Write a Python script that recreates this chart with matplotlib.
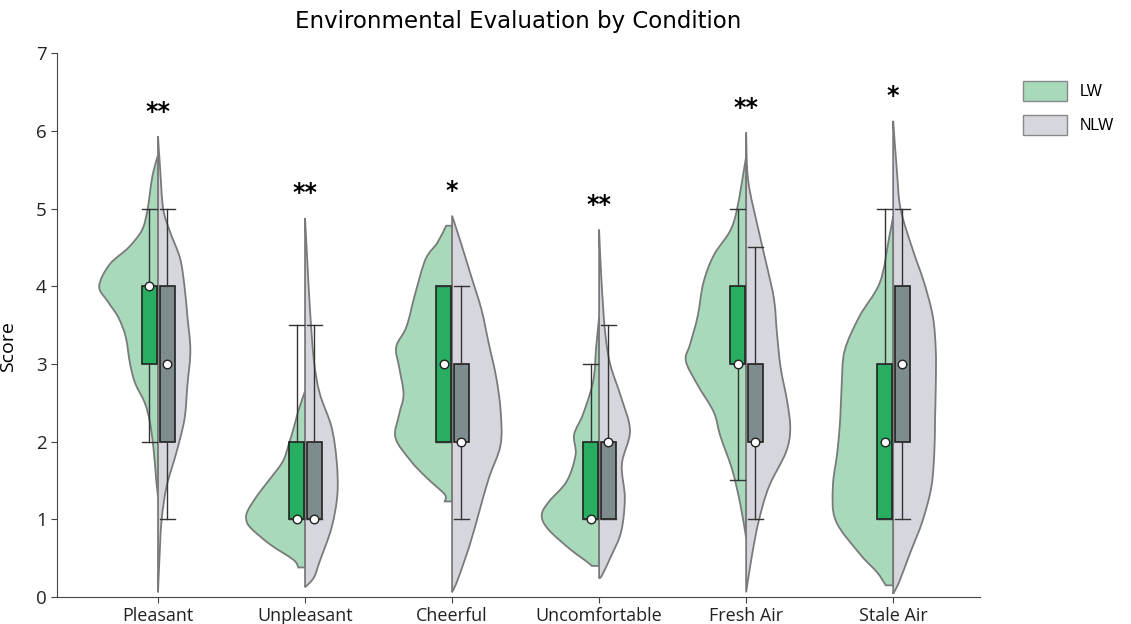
import numpy as np
import matplotlib
matplotlib.use("Agg")
import matplotlib.pyplot as plt
from matplotlib.path import Path
from matplotlib.patches import PathPatch, Patch


# categories and significance marks
conditions = ["Pleasant", "Unpleasant", "Cheerful", "Uncomfortable", "Fresh Air", "Stale Air"]
stars = ["**", "**", "*", "**", "**", "*"]
groups = ["LW", "NLW"]

# box statistics (LW / NLW)
lw_q1 = [3, 1, 2, 1, 3, 1]
lw_med = [4, 1, 3, 1, 3, 2]
lw_q3 = [4, 2, 4, 2, 4, 3]
lw_lo = [2, 1, 2, 1, 1.5, 1]
lw_hi = [5, 3.5, 4, 3, 5, 5]

nlw_q1 = [2, 1, 2, 1, 2, 2]
nlw_med = [3, 1, 2, 2, 2, 3]
nlw_q3 = [4, 2, 3, 2, 3, 4]
nlw_lo = [1, 1, 1, 1, 1, 1]
nlw_hi = [5, 3.5, 4, 3.5, 4.5, 5]

# violin half profiles: (score, half width), top to bottom
pleasant_lw = [(5.69, 0), (5.45, 0.035), (5.2, 0.055), (4.95, 0.075), (4.72, 0.11), (4.5, 0.20),
               (4.28, 0.33), (4.0, 0.40), (3.8, 0.34), (3.6, 0.27), (3.35, 0.22), (3.0, 0.19),
               (2.75, 0.155), (2.5, 0.09), (2.25, 0.055), (1.9, 0.03), (1.5, 0.012), (1.29, 0)]
pleasant_nlw = [(5.93, 0), (5.5, 0.015), (5.0, 0.035), (4.71, 0.08), (4.36, 0.15), (4.0, 0.18),
                (3.61, 0.20), (3.17, 0.22), (2.73, 0.20), (2.29, 0.18), (1.86, 0.125), (1.42, 0.058),
                (0.98, 0.024), (0.5, 0.01), (0.06, 0)]
unpleasant_lw = [(2.65, 0), (2.40, 0.045), (2.19, 0.075), (1.97, 0.11), (1.75, 0.15), (1.54, 0.23),
                 (1.32, 0.32), (1.11, 0.39), (1.0, 0.40), (0.89, 0.37), (0.68, 0.24), (0.48, 0.08),
                 (0.38, 0.045)]
unpleasant_nlw = [(4.88, 0), (4.34, 0.015), (3.69, 0.034), (3.05, 0.06), (2.62, 0.10), (2.19, 0.18),
                  (1.75, 0.215), (1.32, 0.22), (0.89, 0.18), (0.46, 0.10), (0.25, 0.06), (0.125, 0)]
cheerful_lw = [(4.78, 0.04), (4.56, 0.10), (4.35, 0.18), (3.91, 0.25), (3.48, 0.31), (3.22, 0.38),
               (2.96, 0.36), (2.61, 0.33), (2.35, 0.36), (2.05, 0.385), (1.75, 0.28), (1.53, 0.17),
               (1.32, 0.05), (1.23, 0.05)]
cheerful_nlw = [(4.91, 0), (4.56, 0.06), (4.13, 0.13), (3.70, 0.20), (3.26, 0.25), (2.83, 0.30),
                (2.40, 0.33), (1.96, 0.33), (1.53, 0.25), (1.10, 0.185), (0.67, 0.12), (0.23, 0.04),
                (0.06, 0)]
uncomfortable_lw = [(3.60, 0), (3.22, 0.02), (2.78, 0.04), (2.35, 0.11), (2.09, 0.17), (1.83, 0.16),
                    (1.49, 0.22), (1.23, 0.34), (1.06, 0.39), (0.88, 0.35), (0.62, 0.20), (0.45, 0.08),
                    (0.40, 0.05)]
uncomfortable_nlw = [(4.73, 0), (4.08, 0.016), (3.43, 0.04), (3.0, 0.075), (2.57, 0.15), (2.14, 0.21),
                     (1.71, 0.155), (1.27, 0.175), (0.84, 0.15), (0.54, 0.085), (0.28, 0.02), (0.24, 0)]
fresh_lw = [(5.67, 0), (5.01, 0.06), (4.71, 0.11), (4.40, 0.22), (4.05, 0.29), (3.61, 0.33),
            (3.26, 0.38), (3.04, 0.41), (2.73, 0.33), (2.38, 0.22), (2.07, 0.175), (1.64, 0.095),
            (1.2, 0.04), (0.76, 0)]
fresh_nlw = [(5.98, 0), (5.36, 0.014), (4.71, 0.086), (4.27, 0.14), (3.83, 0.19), (3.39, 0.21),
             (2.95, 0.235), (2.51, 0.28), (2.16, 0.30), (1.86, 0.27), (1.42, 0.155), (0.98, 0.086),
             (0.54, 0.04), (0.06, 0)]
stale_lw = [(4.9, 0), (4.6, 0.03), (4.05, 0.09), (3.61, 0.23), (3.17, 0.33), (2.73, 0.35),
            (2.29, 0.36), (1.86, 0.38), (1.42, 0.41), (0.98, 0.39), (0.54, 0.22), (0.32, 0.11),
            (0.15, 0.05)]
stale_nlw = [(6.13, 0), (5.5, 0.025), (5.0, 0.05), (4.49, 0.13), (4.05, 0.21), (3.61, 0.27),
             (3.17, 0.29), (2.73, 0.29), (2.29, 0.285), (1.86, 0.28), (1.42, 0.26), (0.98, 0.20),
             (0.54, 0.11), (0.19, 0.04), (0.04, 0)]

lw_shapes = [pleasant_lw, unpleasant_lw, cheerful_lw, uncomfortable_lw, fresh_lw, stale_lw]
nlw_shapes = [pleasant_nlw, unpleasant_nlw, cheerful_nlw, uncomfortable_nlw, fresh_nlw, stale_nlw]

LW_FILL = "#a9d9bb"
NLW_FILL = "#d6d7de"
LW_BOX = "#27ae60"
NLW_BOX = "#7f8c8d"
VIOLIN_EDGE = "#7a7a7a"


def half_violin(ax, center, shape, side, **kwargs):
    # side = -1 left half, +1 right half; smooth outline through the profile points
    pts = np.array([(center + side * w, y) for y, w in shape])
    ext = np.vstack([pts[0], pts, pts[-1]])
    verts = [(center, pts[0, 1]), tuple(pts[0])]
    codes = [Path.MOVETO, Path.LINETO]
    for i in range(len(pts) - 1):
        p0, p1, p2, p3 = ext[i], ext[i + 1], ext[i + 2], ext[i + 3]
        c1 = p1 + (p2 - p0) / 6
        c2 = p2 - (p3 - p1) / 6
        verts += [tuple(c1), tuple(c2), tuple(p2)]
        codes += [Path.CURVE4] * 3
    verts += [(center, pts[-1, 1]), (center, pts[0, 1])]
    codes += [Path.LINETO, Path.CLOSEPOLY]
    patch = PathPatch(Path(verts, codes), **kwargs)
    ax.add_patch(patch)
    return patch


def box_stats(q1, med, q3, lo, hi):
    return [dict(med=m, q1=a, q3=b, whislo=l, whishi=h, fliers=[])
            for a, m, b, l, h in zip(q1, med, q3, lo, hi)]


fig = plt.figure(figsize=(11.31, 6.24), dpi=100)
ax = fig.add_axes([0.0504, 0.0433, 0.816, 0.8713])

x = np.arange(len(conditions))

for i in x:
    half_violin(ax, i, lw_shapes[i], -1, facecolor=LW_FILL, edgecolor=VIOLIN_EDGE, linewidth=1.3, zorder=1)
    half_violin(ax, i, nlw_shapes[i], 1, facecolor=NLW_FILL, edgecolor=VIOLIN_EDGE, linewidth=1.3, zorder=1)

box_w = 0.102
lw_pos = x - 0.058
nlw_pos = x + 0.063
common = dict(widths=box_w, capwidths=box_w, patch_artist=True, showfliers=False, manage_ticks=False,
              whiskerprops=dict(color="#333333", linewidth=1.0),
              capprops=dict(color="#333333", linewidth=1.0),
              medianprops=dict(linewidth=0), zorder=3)
ax.bxp(box_stats(lw_q1, lw_med, lw_q3, lw_lo, lw_hi), positions=lw_pos,
       boxprops=dict(facecolor=LW_BOX, edgecolor="#222222", linewidth=1.2), **common)
ax.bxp(box_stats(nlw_q1, nlw_med, nlw_q3, nlw_lo, nlw_hi), positions=nlw_pos,
       boxprops=dict(facecolor=NLW_BOX, edgecolor="#222222", linewidth=1.2), **common)

ax.scatter(lw_pos, lw_med, s=38, facecolor="white", edgecolor="#222222", linewidth=1.0, zorder=4)
ax.scatter(nlw_pos, nlw_med, s=38, facecolor="white", edgecolor="#222222", linewidth=1.0, zorder=4)

# significance stars above the tallest half
for i in x:
    top = max(lw_shapes[i][0][0], nlw_shapes[i][0][0])
    ax.text(i, top + 0.32, stars[i], ha="center", va="center", fontsize=17, fontweight="bold")

ax.set_xlim(-0.687, 5.59)
ax.set_ylim(0, 7)
ax.set_xticks(x)
ax.set_xticklabels(conditions, family="Open Sans", fontsize=13)
ax.set_yticks(range(8))
ax.set_yticklabels([str(v) for v in range(8)], family="Open Sans", fontsize=13.5)
ax.set_ylabel("Score", family="Open Sans", fontsize=14)
ax.yaxis.set_label_coords(-0.043, 0.46)
ax.set_title("Environmental Evaluation by Condition", fontsize=16.5, pad=18)
for s in ["top", "right"]:
    ax.spines[s].set_visible(False)
for s in ["left", "bottom"]:
    ax.spines[s].set_color("#444444")
ax.tick_params(colors="#444444", labelcolor="#222222", length=4)

handles = [Patch(facecolor=LW_FILL, edgecolor="#888888", label="LW"),
           Patch(facecolor=NLW_FILL, edgecolor="#888888", label="NLW")]
ax.legend(handles=handles, loc="upper left", bbox_to_anchor=(1.031, 0.976), frameon=False,
          handlelength=2.75, handleheight=1.6, handletextpad=0.8, labelspacing=0.85,
          prop={"family": "Liberation Sans", "size": 11.5})

fig.savefig("out.png", dpi=100)
